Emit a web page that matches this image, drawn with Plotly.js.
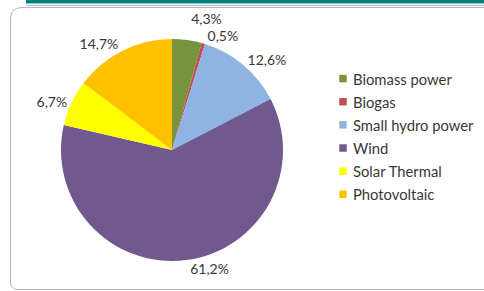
<!DOCTYPE html>
<html>
<head>
<meta charset="utf-8">
<script src="https://cdn.plot.ly/plotly-3.0.1.min.js"></script>
<style>
html,body{margin:0;padding:0;background:#fff;}
#chart{width:484px;height:291px;}
path.textline{display:none;}
path.legendpie{transform:translate(30px,0) scale(0.62);}
</style>
</head>
<body>
<div id="chart"></div>
<script>
const categories = ["Biomass power", "Biogas", "Small hydro power", "Wind", "Solar Thermal", "Photovoltaic"];
const shares = [4.3, 0.5, 12.6, 61.2, 6.7, 14.7];
const sliceColors = ["#77933C", "#C0504D", "#8EB4E3", "#71588F", "#FFFF00", "#FFC000"];

const W = 484, H = 291;
const px = x => x / W, py = y => 1 - y / H;

const trace = {
  type: "pie",
  labels: categories.map(c => '<span style="font-size:14.8px">' + c + '</span>'),
  values: shares,
  marker: {colors: sliceColors, line: {width: 0}},
  sort: false,
  direction: "clockwise",
  rotation: 0,
  textinfo: "percent",
  texttemplate: "%{percent:.1%}",
  textposition: "outside",
  outsidetextfont: {family: "Lato, 'Open Sans', sans-serif", size: 14, color: "#383838"},
  domain: {x: [px(61), px(283)], y: [py(261), py(39)]},
  hoverinfo: "label+percent"
};

const layout = {
  width: W, height: H,
  margin: {l: 0, r: 0, t: 0, b: 0},
  paper_bgcolor: "#ffffff",
  separators: ",.",
  showlegend: true,
  legend: {
    x: px(313), y: py(62), xanchor: "left", yanchor: "top",
    font: {family: "Lato, 'Open Sans', sans-serif", size: 15.5, color: "#383838"},
    itemwidth: 30, traceorder: "normal", bgcolor: "rgba(0,0,0,0)"
  },
  shapes: [
    {type: "rect", xref: "paper", yref: "paper", x0: px(26), x1: 1, y0: py(3.5), y1: 1, fillcolor: "#00827F", line: {width: 0}, layer: "below"},
    {type: "line", xref: "paper", yref: "paper", x0: px(26), x1: 1, y0: py(5.5), y1: py(5.5), line: {color: "#b8b8b8", width: 1}, layer: "below"},
    {type: "path", xref: "paper", yref: "paper",
     path: "M " + px(490) + "," + py(7.5) + " L " + px(22) + "," + py(7.5) + " Q " + px(10.5) + "," + py(7.5) + " " + px(10.5) + "," + py(19) +
           " L " + px(10.5) + "," + py(282) + " Q " + px(10.5) + "," + py(289.5) + " " + px(18) + "," + py(289.5) + " L " + px(490) + "," + py(289.5),
     line: {color: "#b5b5b5", width: 1}, layer: "below"}
  ]
};

Plotly.newPlot("chart", [trace], layout, {displayModeBar: false, staticPlot: true});
</script>
</body>
</html>
